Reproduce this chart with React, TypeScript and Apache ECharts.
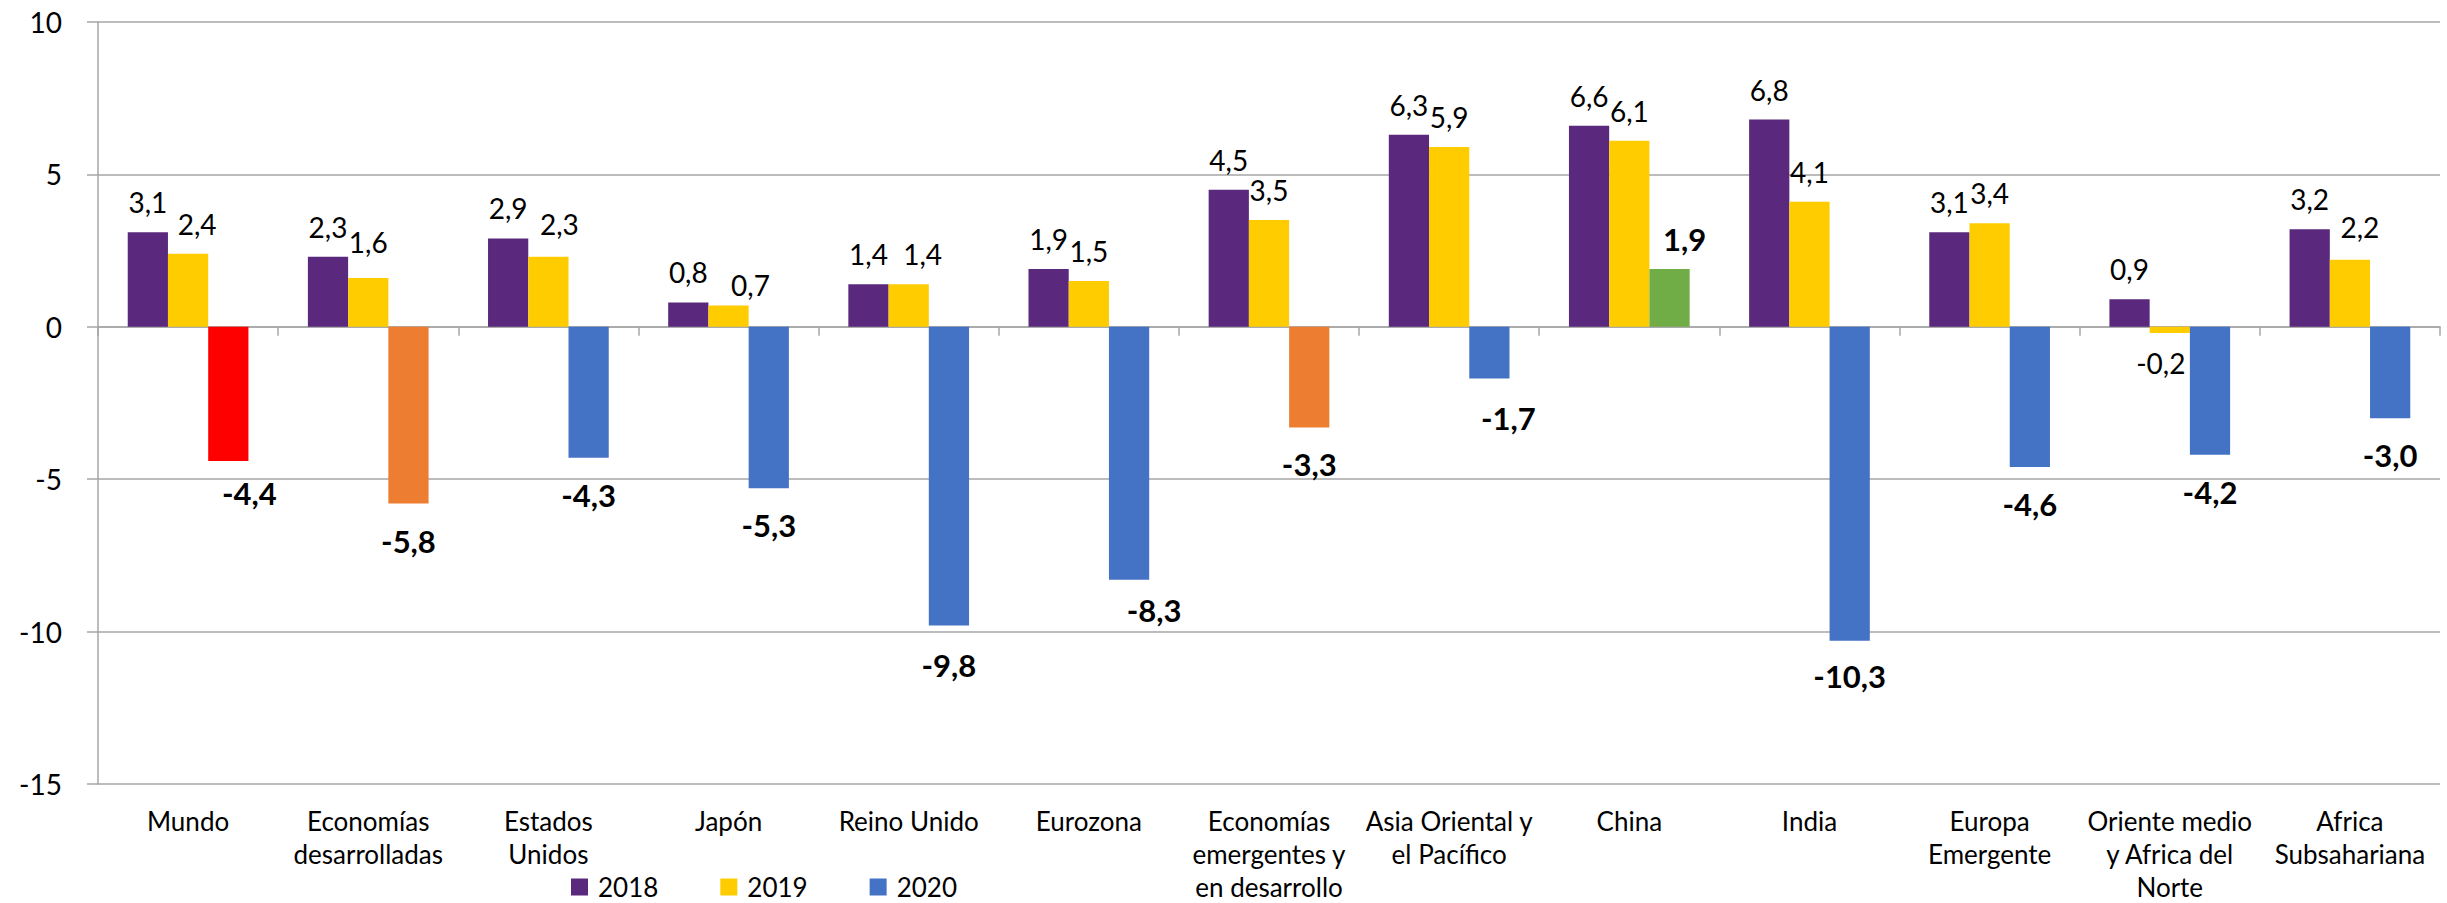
import React, { useEffect, useRef } from "react";
import * as echarts from "echarts";

const categories = [
  "Mundo",
  "Economías\ndesarrolladas",
  "Estados\nUnidos",
  "Japón",
  "Reino Unido",
  "Eurozona",
  "Economías\nemergentes y\nen desarrollo",
  "Asia Oriental y\nel Pacífico",
  "China",
  "India",
  "Europa\nEmergente",
  "Oriente medio\ny Africa del\nNorte",
  "Africa\nSubsahariana",
];

const seriesNames = ["2018", "2019", "2020"];

const values2018 = [3.1, 2.3, 2.9, 0.8, 1.4, 1.9, 4.5, 6.3, 6.6, 6.8, 3.1, 0.9, 3.2];
const values2019 = [2.4, 1.6, 2.3, 0.7, 1.4, 1.5, 3.5, 5.9, 6.1, 4.1, 3.4, -0.2, 2.2];
const values2020 = [-4.4, -5.8, -4.3, -5.3, -9.8, -8.3, -3.3, -1.7, 1.9, -10.3, -4.6, -4.2, -3.0];

const yMin = -15;
const yMax = 10;
const yInterval = 5;

// styles (kept apart from the data)
const color2018 = "#5A287D";
const color2019 = "#FFCC00";
const color2020 = "#4472C4";
const colors2020 = [
  "#FF0000", "#ED7D31", "#4472C4", "#4472C4", "#4472C4", "#4472C4", "#ED7D31",
  "#4472C4", "#70AD47", "#4472C4", "#4472C4", "#4472C4", "#4472C4",
];
const offsets2019: number[][] = [
  [9, 0], [0, -6], [11, -3], [22, 10], [14, 0], [0, 0], [0, 0],
  [0, 0], [0, 0], [0, 0], [0, 0], [-9, 0], [10, -3],
];
const offsets2020: number[][] = [
  [21, -5], [0, 0], [0, 0], [0, 0], [0, 2], [25, -7], [0, 0],
  [19, 2], [15, 7], [0, -2], [0, 0], [0, 0], [0, 0],
];

const FONT = "Lato, 'Open Sans', sans-serif";
const GRID_COLOR = "#A6A6A6";

const fmt = (v: number) => v.toFixed(1).replace(".", ",");

export default function App() {
  const ref = useRef<HTMLDivElement>(null);

  useEffect(() => {
    document.body.style.margin = "0";
    const chart = echarts.init(ref.current!, null, { renderer: "svg" });

    const normalLabel = {
      show: true,
      position: "outside",
      distance: 15,
      fontFamily: FONT,
      fontSize: 28,
      lineHeight: 30,
      color: "#000",
      formatter: (p: any) => fmt(p.value),
    };
    const boldLabel = {
      show: true,
      position: "outside",
      distance: 21,
      fontFamily: FONT,
      fontSize: 31,
      fontWeight: "bold",
      lineHeight: 32,
      color: "#000",
      formatter: (p: any) => fmt(p.value),
    };

    chart.setOption({
      animation: false,
      backgroundColor: "#fff",
      textStyle: { fontFamily: FONT },
      grid: { left: 98, right: 7, top: 22, bottom: 117, containLabel: false },
      legend: {
        data: seriesNames,
        left: 571,
        top: 874,
        padding: 0,
        itemWidth: 17,
        itemHeight: 17,
        itemGap: 62,
        icon: "rect",
        textStyle: {
          fontFamily: FONT,
          fontSize: 26,
          lineHeight: 26,
          color: "#000",
          padding: [0, 0, 0, 5],
        },
      },
      xAxis: [
        {
          type: "category",
          data: categories,
          position: "bottom",
          axisLine: { show: false, onZero: false },
          axisTick: { show: false },
          splitLine: { show: false },
          axisLabel: {
            interval: 0,
            margin: 20,
            fontFamily: FONT,
            fontSize: 26,
            lineHeight: 33,
            color: "#000",
            align: "center",
          },
        },
        {
          type: "category",
          data: categories,
          position: "top",
          axisLine: { show: true, onZero: true, lineStyle: { color: GRID_COLOR, width: 1.5 } },
          axisTick: { show: true, inside: true, length: 9, lineStyle: { color: GRID_COLOR, width: 1.5 } },
          axisLabel: { show: false },
          splitLine: { show: false },
        },
      ],
      yAxis: {
        type: "value",
        min: yMin,
        max: yMax,
        interval: yInterval,
        axisLine: { show: true, lineStyle: { color: GRID_COLOR, width: 1.5 } },
        axisTick: { show: true, length: 11, lineStyle: { color: GRID_COLOR, width: 1.5 } },
        splitLine: { show: true, lineStyle: { color: GRID_COLOR, width: 1.5 } },
        axisLabel: {
          margin: 36,
          fontFamily: FONT,
          fontSize: 28,
          color: "#000",
        },
      },
      series: [
        {
          name: seriesNames[0],
          type: "bar",
          xAxisIndex: 0,
          barGap: "0%",
          barCategoryGap: "33%",
          itemStyle: { color: color2018 },
          label: normalLabel,
          data: values2018.map((v) => ({ value: v })),
        },
        {
          name: seriesNames[1],
          type: "bar",
          xAxisIndex: 0,
          barGap: "0%",
          barCategoryGap: "33%",
          itemStyle: { color: color2019 },
          label: normalLabel,
          data: values2019.map((v, i) => ({
            value: v,
            label: { offset: offsets2019[i] },
          })),
        },
        {
          name: seriesNames[2],
          type: "bar",
          xAxisIndex: 0,
          barGap: "0%",
          barCategoryGap: "33%",
          itemStyle: { color: color2020 },
          label: boldLabel,
          data: values2020.map((v, i) => ({
            value: v,
            itemStyle: { color: colors2020[i] },
            label: { offset: offsets2020[i] },
          })),
        },
      ],
    });

    return () => chart.dispose();
  }, []);

  return (
    <div
      ref={ref}
      style={{ position: "fixed", left: 0, top: 0, width: 2447, height: 903, background: "#fff" }}
    />
  );
}
